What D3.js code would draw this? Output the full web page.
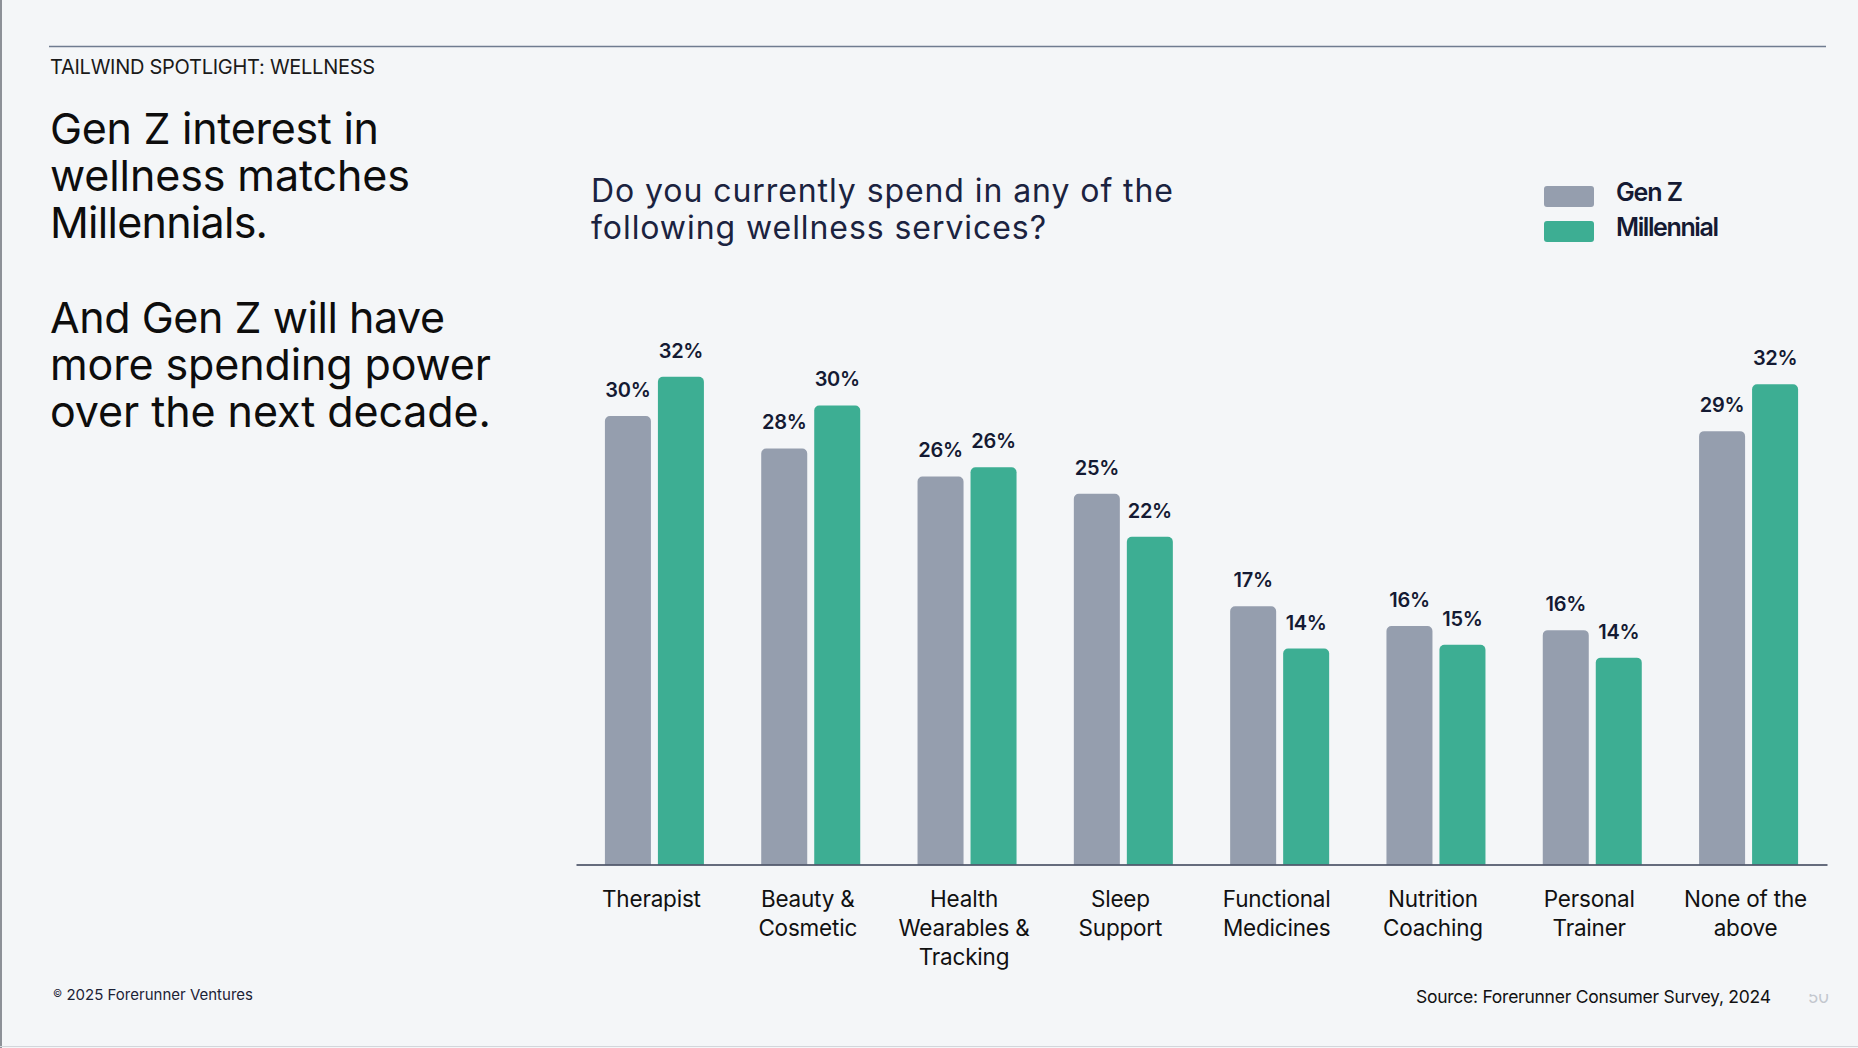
<!DOCTYPE html>
<html>
<head>
<meta charset="utf-8">
<script src="https://cdn.jsdelivr.net/npm/d3@7"></script>
<style>
  html, body { margin: 0; padding: 0; background: #f4f6f8; }
  svg { display: block; }
  text { font-family: Inter, "Noto Sans", sans-serif; }
</style>
</head>
<body>
<svg id="chart" width="1858" height="1048"></svg>
<script>
// ---- data (bar values; labels show the rounded figures) ----
const categories = ["Therapist", "Beauty &\nCosmetic", "Health\nWearables &\nTracking", "Sleep\nSupport",
                    "Functional\nMedicines", "Nutrition\nCoaching", "Personal\nTrainer", "None of the\nabove"];
const seriesNames = ["Gen Z", "Millennial"];
const genZ = [29.7, 27.55, 25.7, 24.55, 17.1, 15.8, 15.52, 28.7];
const millennial = [32.3, 30.4, 26.3, 21.7, 14.3, 14.55, 13.7, 31.8];
const headerText = "TAILWIND SPOTLIGHT: WELLNESS";
const headline = ["Gen Z interest in", "wellness matches", "Millennials."];
const subhead = ["And Gen Z will have", "more spending power", "over the next decade."];
const chartTitle = ["Do you currently spend in any of the", "following wellness services?"];
const copyrightText = "2025 Forerunner Ventures";
const sourceText = "Source: Forerunner Consumer Survey, 2024";
const pageNumber = "50";

const colors = { "Gen Z": "#959eae", "Millennial": "#3dae93" };
const ink = "#141a33";

const svg = d3.select("#chart");

// background & page edges
svg.append("rect").attr("width", 1858).attr("height", 1048).attr("fill", "#f4f6f8");
svg.append("rect").attr("x", 0).attr("y", 0).attr("width", 2).attr("height", 1048).attr("fill", "#8d9198");
svg.append("line").attr("x1", 0).attr("x2", 1858).attr("y1", 1046.5).attr("y2", 1046.5)
  .attr("stroke", "#d3d6db").attr("stroke-width", 1.2);

// letter-spacing fit helper
function fit(sel, target) {
  sel.each(function() {
    const w = this.getComputedTextLength();
    const n = this.textContent.length;
    let ls = (target - w) / Math.max(1, n - 1);
    ls = Math.max(-2, Math.min(2, ls));
    d3.select(this).attr("letter-spacing", ls.toFixed(3));
  });
}

// top rule + header
svg.append("line").attr("x1", 49).attr("x2", 1826).attr("y1", 46.5).attr("y2", 46.5)
  .attr("stroke", "#6f7c90").attr("stroke-width", 1.5);
svg.append("text").attr("x", 50).attr("y", 74).attr("font-size", 20).attr("fill", "#1a1a1a")
  .text(headerText).call(fit, 325);

// headline blocks
const hlW = [329, 360, 218];
svg.append("g").selectAll("text").data(headline).join("text")
  .attr("x", 50).attr("y", (d, i) => 144 + i * 47).attr("font-size", 43).attr("fill", "#0d0d0d")
  .text(d => d).each(function(d, i) { d3.select(this).call(fit, hlW[i]); });
const shW = [395, 441, 441];
svg.append("g").selectAll("text").data(subhead).join("text")
  .attr("x", 50).attr("y", (d, i) => 333 + i * 47).attr("font-size", 43).attr("fill", "#0d0d0d")
  .text(d => d).each(function(d, i) { d3.select(this).call(fit, shW[i]); });

// chart title
const ctW = [582, 455];
svg.append("g").selectAll("text").data(chartTitle).join("text")
  .attr("x", 591).attr("y", (d, i) => 202 + i * 36.5).attr("font-size", 32).attr("fill", "#1b2340")
  .text(d => d).each(function(d, i) { d3.select(this).call(fit, ctW[i]); });

// legend
const legend = svg.append("g");
const lgW = [67, 103];
seriesNames.forEach((s, i) => {
  legend.append("rect").attr("x", 1544).attr("y", 186 + i * 35).attr("width", 50).attr("height", 21)
    .attr("rx", 3).attr("fill", colors[s]);
  legend.append("text").attr("x", 1616).attr("y", 201 + i * 34.5).attr("font-size", 25)
    .attr("font-weight", 600).attr("fill", ink).text(s).call(fit, lgW[i]);
});

// scales
const x0 = d3.scaleBand().domain(categories).range([576, 1827]).paddingInner(0.3666).paddingOuter(0.185);
const x1 = d3.scaleBand().domain(seriesNames).range([0, x0.bandwidth()]).paddingInner(0.132);
const y = d3.scaleLinear().domain([0, 32]).range([864.5, 381.3]);

const rows = categories.map((c, i) => ({ cat: c, vals: [
  { s: "Gen Z", v: genZ[i] }, { s: "Millennial", v: millennial[i] } ] }));

function topRounded(x, yTop, w, h, r) {
  const p = d3.path();
  p.moveTo(x, yTop + h);
  p.lineTo(x, yTop + r);
  p.arcTo(x, yTop, x + r, yTop, r);
  p.lineTo(x + w - r, yTop);
  p.arcTo(x + w, yTop, x + w, yTop + r, r);
  p.lineTo(x + w, yTop + h);
  p.closePath();
  return p.toString();
}

const groups = svg.append("g").selectAll("g").data(rows).join("g")
  .attr("transform", d => `translate(${x0(d.cat)},0)`);

groups.selectAll("path").data(d => d.vals).join("path")
  .attr("d", d => topRounded(x1(d.s), y(d.v), x1.bandwidth(), y(0) - y(d.v), 5))
  .attr("fill", d => colors[d.s]);

groups.selectAll("text.val").data(d => d.vals).join("text").attr("class", "val")
  .attr("x", d => x1(d.s) + x1.bandwidth() / 2).attr("y", d => y(d.v) - 19)
  .attr("text-anchor", "middle").attr("font-size", 20).attr("font-weight", 600)
  .attr("fill", ink).attr("letter-spacing", -0.3).text(d => Math.round(d.v) + "%");

// x axis
const xAxis = d3.axisBottom(x0).tickSize(0).tickSizeOuter(0).tickFormat("");
const axG = svg.append("g").attr("transform", `translate(0,${y(0)})`).call(xAxis);
axG.select(".domain").attr("stroke", "#363e55").attr("stroke-width", 1.4);

// category labels
const labG = svg.append("g");
categories.forEach(c => {
  const lines = c.split("\n");
  const cx = x0(c) + x0.bandwidth() / 2 - 3;
  labG.append("g").selectAll("text").data(lines).join("text")
    .attr("x", cx).attr("y", (d, i) => 906.7 + i * 29.3)
    .attr("text-anchor", "middle").attr("font-size", 22.5).attr("fill", "#111111")
    .attr("letter-spacing", -0.2).text(d => d);
});

// footer
const foot = svg.append("text").attr("x", 53).attr("y", 1000).attr("font-size", 15).attr("fill", "#1c2236");
foot.append("tspan").attr("font-size", 10).attr("dy", -3).text("©");
foot.append("tspan").attr("dy", 3).text(" " + copyrightText);
foot.call(fit, 200);
svg.append("text").attr("x", 1416).attr("y", 1003).attr("font-size", 17.5).attr("fill", "#111111")
  .text(sourceText).call(fit, 355);

svg.append("clipPath").attr("id", "pgclip").append("rect")
  .attr("x", 1800).attr("y", 994).attr("width", 50).attr("height", 20);
svg.append("text").attr("x", 1808).attr("y", 1003).attr("font-size", 17).attr("fill", "#c3c7ce")
  .attr("clip-path", "url(#pgclip)").text(pageNumber);
</script>
</body>
</html>
